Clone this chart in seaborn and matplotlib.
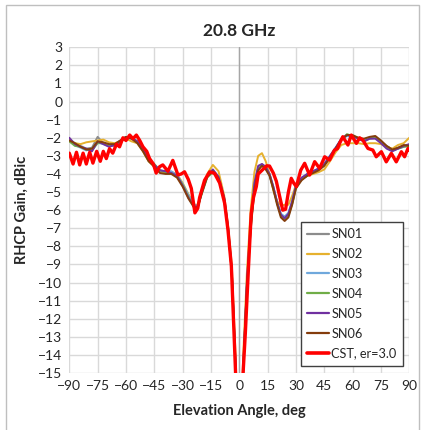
import pandas as pd
import matplotlib.pyplot as plt
import matplotlib.patches as mpatches
import seaborn as sns
import numpy as np

# --- data ---
angle_meas = [-90, -87, -84, -81, -78, -75, -72, -69, -66, -63, -60, -57, -54, -51, -48, -45,
              -42, -39, -36, -33, -30, -27, -24, -22, -20, -17, -14, -11, -8, -6, -4, -2, 0,
              2, 4, 6, 8, 10, 12, 14, 16, 18, 20, 22, 24, 26, 28, 30, 33, 36, 39, 42, 45, 48,
              51, 54, 57, 60, 63, 66, 69, 72, 75, 78, 81, 84, 87, 90]

sn01 = [-2.1, -2.3, -2.45, -2.6, -2.55, -1.95, -2.3, -2.4, -2.35, -2.15, -1.95, -2.05, -2.2, -2.65, -3.15, -3.5,
        -3.85, -3.9, -3.9, -4.1, -4.6, -5.2, -5.75, -5.8, -5.1, -4.15, -3.85, -4.2, -5.3, -6.9, -9.3, -14.5, -24,
        -15.0, -10.2, -6.9, -4.7, -3.7, -3.45, -3.65, -4.0, -4.7, -5.55, -6.25, -6.45, -6.25, -5.6, -4.7, -4.3, -4.05, -3.9, -3.75, -3.5, -3.05,
        -2.6, -2.1, -1.85, -1.9, -2.05, -2.15, -2.0, -1.95, -2.2, -2.45, -2.65, -2.55, -2.45, -2.4]
sn02 = [-2.2, -2.3, -2.35, -2.25, -2.2, -2.15, -2.1, -2.25, -2.3, -2.2, -2.05, -2.2, -2.3, -2.75, -3.3, -3.6,
        -3.85, -3.95, -3.9, -4.0, -4.5, -5.1, -5.7, -5.7, -5.0, -4.0, -3.5, -3.85, -5.2, -6.8, -9.0, -14.0, -24,
        -14.2, -9.5, -6.0, -3.9, -3.0, -2.85, -3.3, -4.0, -4.9, -5.5, -5.75, -5.7, -5.7, -5.2, -4.6, -4.25, -4.1, -4.0, -3.9, -3.75, -3.3,
        -2.8, -2.4, -2.3, -2.3, -2.3, -2.35, -2.3, -2.3, -2.35, -2.5, -2.6, -2.4, -2.3, -2.0]
sn03 = [-2.15, -2.4, -2.55, -2.7, -2.6, -2.25, -2.35, -2.45, -2.4, -2.2, -2.0, -2.05, -2.25, -2.7, -3.2, -3.5,
        -3.8, -3.85, -3.85, -4.05, -4.55, -5.15, -5.7, -5.75, -5.05, -4.1, -3.8, -4.2, -5.35, -6.95, -9.3, -14.6, -24,
        -14.9, -10.1, -6.8, -4.6, -3.65, -3.5, -3.7, -4.05, -4.75, -5.6, -6.2, -6.35, -6.15, -5.5, -4.65, -4.25, -4.0, -3.85, -3.7, -3.45, -3.0,
        -2.55, -2.1, -1.9, -1.95, -2.05, -2.1, -2.0, -2.0, -2.25, -2.5, -2.7, -2.6, -2.5, -2.45]
sn04 = [-2.2, -2.45, -2.5, -2.65, -2.7, -2.3, -2.3, -2.4, -2.45, -2.2, -2.0, -2.0, -2.2, -2.6, -3.15, -3.45,
        -3.8, -3.9, -3.95, -4.1, -4.6, -5.25, -5.8, -5.85, -5.15, -4.2, -3.9, -4.25, -5.4, -7.0, -9.4, -14.7, -24,
        -15.1, -10.3, -7.0, -4.8, -3.75, -3.5, -3.7, -4.05, -4.8, -5.6, -6.3, -6.5, -6.3, -5.65, -4.75, -4.3, -4.1, -3.9, -3.75, -3.5, -3.1,
        -2.6, -2.1, -1.8, -1.9, -2.0, -2.2, -2.05, -2.0, -2.2, -2.5, -2.7, -2.6, -2.5, -2.45]
sn05 = [-2.0, -2.35, -2.5, -2.6, -2.75, -2.2, -2.35, -2.5, -2.4, -2.2, -1.95, -2.0, -2.2, -2.6, -3.2, -3.5,
        -3.8, -3.85, -3.95, -4.1, -4.65, -5.3, -5.8, -5.8, -5.05, -4.1, -3.75, -4.15, -5.3, -6.9, -9.3, -14.5, -24,
        -14.9, -10.0, -6.7, -4.5, -3.55, -3.45, -3.6, -4.0, -4.7, -5.55, -6.25, -6.45, -6.2, -5.5, -4.65, -4.2, -4.0, -3.85, -3.7, -3.45, -3.0,
        -2.55, -2.05, -1.85, -1.9, -2.05, -2.2, -2.05, -2.05, -2.3, -2.6, -2.75, -2.6, -2.45, -2.35]
sn06 = [-2.15, -2.3, -2.5, -2.65, -2.6, -2.2, -2.25, -2.35, -2.35, -2.15, -1.95, -2.05, -2.3, -2.75, -3.3, -3.6,
        -3.95, -4.0, -4.0, -4.2, -4.7, -5.35, -5.85, -5.85, -5.1, -4.15, -3.85, -4.25, -5.4, -7.0, -9.4, -14.6, -24,
        -15.0, -10.3, -7.1, -4.9, -3.8, -3.55, -3.75, -4.1, -4.85, -5.7, -6.4, -6.6, -6.4, -5.7, -4.8, -4.35, -4.1, -3.95, -3.8, -3.55, -3.1,
        -2.6, -2.1, -1.85, -1.85, -2.0, -2.05, -1.95, -1.9, -2.15, -2.45, -2.65, -2.55, -2.4, -2.45]

angle_cst = [-90, -88, -86.2, -84.5, -82.7, -81, -79.2, -77.5, -75.5, -73.6, -72, -70.4, -68.7, -67, -65, -63.4,
             -61.6, -60, -58, -56.3, -54.5, -52.7, -51, -49, -47.5, -45.5, -44, -42.2, -40.5, -37.8, -35.2,
             -32.5, -30.7, -29, -27, -25.4, -23.5, -22, -21, -18.4, -15.7, -13.1, -10.4, -7.8, -6, -4.2,
             -2.8, -1.9, 0, 1.9, 3.2, 4.9, 6.3, 7.5, 9, 10, 12.5, 14.5, 16, 18, 19.6, 21.5, 23, 24.5, 26,
             27.5, 28.8, 30.2, 32.5, 34.6, 37.2, 39.9, 42.5, 45.2, 47.8, 50.4, 52, 53.1, 54.8, 57.5, 59.3,
             62, 63.7, 65.4, 68.1, 70.7, 72.5, 75.2, 77.8, 80.5, 83.1, 85.8, 87.5, 89.3, 90]
cst = [-2.85, -3.45, -2.8, -3.5, -2.85, -3.45, -2.8, -3.4, -2.75, -3.3, -2.75, -3.15, -2.6, -2.85, -2.35, -2.5,
       -2.0, -2.15, -1.85, -2.05, -1.85, -2.15, -2.5, -2.75, -3.15, -3.45, -3.95, -3.6, -3.5, -3.85, -3.25,
       -4.05, -4.0, -3.88, -4.3, -4.8, -6.15, -5.9, -5.3, -4.35, -3.88, -3.97, -4.5, -5.6, -7.1, -9.1,
       -12.8, -15.2, -24, -15.2, -12.8, -9.1, -6.2, -5.3, -4.7, -4.0, -3.75, -3.55, -3.56, -3.95, -4.4, -5.3, -6.0, -5.95, -5.0,
       -4.24, -4.5, -4.7, -3.8, -3.41, -4.06, -3.32, -3.69, -3.05, -3.23, -2.68, -2.6, -2.31, -1.94, -2.4, -1.85,
       -2.31, -2.0, -2.13, -2.59, -2.68, -3.05, -2.77, -3.33, -2.86, -3.33, -2.77, -3.05, -2.59, -2.7]

series = {'SN01': sn01, 'SN02': sn02, 'SN03': sn03, 'SN04': sn04, 'SN05': sn05, 'SN06': sn06}
colors = {'SN01': '#8C8C8C', 'SN02': '#E6B12E', 'SN03': '#6FA8DC', 'SN04': '#70AD47',
          'SN05': '#7030A0', 'SN06': '#843C0C'}

df = pd.concat([pd.DataFrame({'Angle': angle_meas, 'Gain': v, 'Unit': k}) for k, v in series.items()])
df_cst = pd.DataFrame({'Angle': angle_cst, 'Gain': cst})

# --- figure ---
sns.set_style('white')
plt.rcParams['font.family'] = ['Lato', 'DejaVu Sans']

fig = plt.figure(figsize=(4.24, 4.30), dpi=100)
ax = fig.add_axes([69.3 / 424, 1 - 373 / 430, 340 / 424, 325.7 / 430])

# outer chart frame (Excel chart area)
fig.patches.append(mpatches.Rectangle((6 / 424, -0.05), 413 / 424, 1.05 - 5 / 430,
                                      transform=fig.transFigure, fill=False,
                                      edgecolor='#BFBFBF', linewidth=1.0))

sns.lineplot(data=df, x='Angle', y='Gain', hue='Unit', palette=colors, linewidth=1.4,
             sort=False, legend=False, ax=ax, zorder=3)
sns.lineplot(data=df_cst, x='Angle', y='Gain', color='#FF0000', linewidth=2.4,
             sort=False, legend=False, ax=ax, zorder=4)

ax.set_xlim(-90, 90)
ax.set_ylim(-15, 3)
ax.set_xticks(np.arange(-90, 91, 15))
ax.set_yticks(np.arange(-15, 4, 1))
ax.grid(True, color='#D9D9D9', linewidth=1.0)
ax.set_axisbelow(True)
ax.axvline(0, color='#A6A6A6', linewidth=1.0, zorder=1)
for s in ax.spines.values():
    s.set_visible(False)
ax.tick_params(axis='both', length=0, labelsize=10, colors='#262626', pad=5)

ax.set_title('20.8 GHz', fontsize=12.5, fontweight='bold', pad=8)
ax.set_xlabel('Elevation Angle, deg', fontsize=10.5, fontweight='bold', labelpad=9)
ax.set_ylabel('RHCP Gain, dBic', fontsize=10.5, fontweight='bold', labelpad=7)

handles = [plt.Line2D([], [], color=colors[k], linewidth=1.6) for k in series]
handles.append(plt.Line2D([], [], color='#FF0000', linewidth=2.6))
labels = list(series.keys()) + ['CST, er=3.0']
leg = ax.legend(handles, labels, loc='lower right', bbox_to_anchor=(0.981, 0.0215),
                fontsize=9.2, frameon=True, fancybox=False, framealpha=1,
                handlelength=1.75, handletextpad=0.15, labelspacing=0.62,
                borderpad=0.5, borderaxespad=0)
leg.get_frame().set_edgecolor('#404040')
leg.get_frame().set_linewidth(1.0)

plt.savefig('out.png', dpi=100)
